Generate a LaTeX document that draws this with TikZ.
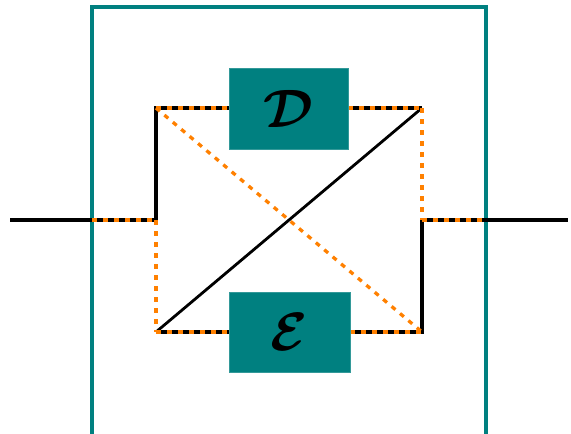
\documentclass[tikz,border=0pt]{standalone}
\usepackage{amsmath,bm}
\definecolor{tealc}{RGB}{0,128,128}
\definecolor{orng}{RGB}{255,128,0}
\newcommand{\bigletter}[1]{\scalebox{5.4}{$\boldsymbol{\mathcal{#1}}$}}
\begin{document}
\begin{tikzpicture}[x=1pt,y=-1pt,
  blk/.style={line width=3.3pt,black},
  orn/.style={line width=3.3pt,orng,dash pattern=on 5pt off 6pt},
  framest/.style={draw=tealc,line width=3.6pt},
  blockbox/.style={fill=tealc,draw=tealc!80!white,line width=0.8pt,inner sep=0pt}]
\useasboundingbox (0,0) rectangle (571,434);
\clip (0,0) rectangle (571,434);
\coordinate (FBL) at (92,460);
\coordinate (FTL) at (92,7);
\coordinate (FTR) at (486,7);
\coordinate (FBR) at (486,460);
\draw[framest] (FBL) -- (FTL) -- (FTR) -- (FBR);
\coordinate (L) at (10,220);
\coordinate (FL) at (92,220);
\coordinate (Lin) at (156,220);
\coordinate (TL) at (156,108);
\coordinate (TR) at (422,108);
\coordinate (BL) at (156,332);
\coordinate (BR) at (422,332);
\coordinate (Rin) at (422,220);
\coordinate (FR) at (486,220);
\coordinate (R) at (568,220);
\path (288.5,108.5) coordinate (Dc) (289.5,332) coordinate (Ec);
\draw[blk] (L) -- (Lin) -- (TL) -- (229,108);
\draw[blk] (348,108) -- (TR);
\draw[blk] (BL) -- (229,332);
\draw[blk] (350,332) -- (BR) -- (Rin) -- (R);
\draw[blk,line width=2.8pt] (BL) -- (TR);
\draw[orn] (FL) -- (Lin);
\draw[orn] (Lin) -- (BL);
\draw[orn] (TL) -- (229,108);
\draw[orn] (348,108) -- (TR);
\draw[orn] (TR) -- (Rin);
\draw[orn] (Rin) -- (FR);
\draw[orn] (BL) -- (229,332);
\draw[orn] (350,332) -- (BR);
\draw[orn] (TL) -- (BR);
\node[blockbox,minimum width=119pt,minimum height=81pt] (D) at (Dc) {\bigletter{D}};
\node[blockbox,minimum width=121pt,minimum height=80pt] (E) at (Ec) {\bigletter{E}};
\end{tikzpicture}
\end{document}
